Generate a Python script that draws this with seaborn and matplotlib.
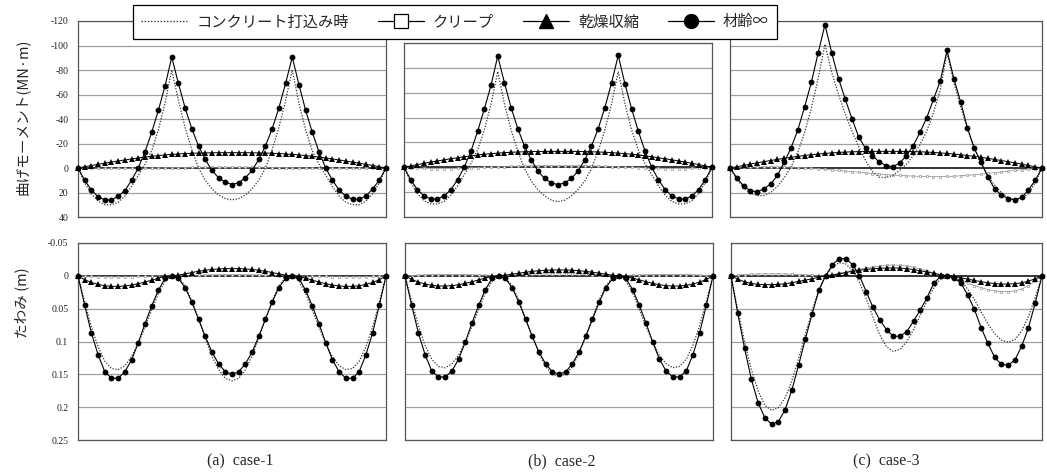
import matplotlib
matplotlib.use('Agg')
import pandas as pd
import matplotlib.pyplot as plt
import seaborn as sns
from matplotlib.lines import Line2D

# node positions along the girder (0..46), supports at 0, 14, 32, 46
nodes = list(range(47))

series_names = ['コンクリート打込み時', 'クリープ', '乾燥収縮', '材齢∞']
case_labels = ['(a)  case-1', '(b)  case-2', '(c)  case-3']

m_ticks = [-120, -100, -80, -60, -40, -20, 0, 20, 40]
m_tick_labels = ['-120', '-100', '-80', '-60', '-40', '-20', '0', '20', '40']
w_ticks = [-0.05, 0, 0.05, 0.1, 0.15, 0.2, 0.25]
w_tick_labels = ['-0.05', '0', '0.05', '0.1', '0.15', '0.2', '0.25']

# ---- bending moment (MN·m) ----
m1_pour = [0, 12, 21, 27, 30, 30, 28, 23, 15, 6, -3, -14, -31, -53, -80,
           -55, -33, -15, 0, 10, 17, 22, 25, 26, 25, 22, 17, 10, 0, -15, -33, -55,
           -80, -53, -31, -14, -3, 6, 15, 23, 28, 30, 30, 27, 21, 12, 0]
m1_creep = [0, 0.1, 0.2, 0.3, 0.3, 0.4, 0.4, 0.4, 0.3, 0.3, 0.2, 0.1, 0, -0.1, -0.2,
            -0.3, -0.4, -0.5, -0.5, -0.6, -0.6, -0.6, -0.6, -0.6, -0.6, -0.6, -0.6, -0.5, -0.5, -0.4, -0.3, -0.2,
            -0.1, 0, 0.1, 0.2, 0.3, 0.3, 0.4, 0.4, 0.4, 0.3, 0.3, 0.2, 0.1, 0.05, 0]
m1_shrink = [0, -1.0, -2.0, -3.0, -3.9, -4.8, -5.7, -6.6, -7.4, -8.2, -8.9, -9.6, -10.2, -10.7, -11.1,
             -11.5, -11.8, -12.0, -12.2, -12.3, -12.4, -12.5, -12.5, -12.5, -12.5, -12.5, -12.4, -12.3, -12.2, -12.0, -11.8, -11.5,
             -11.1, -10.7, -10.2, -9.6, -8.9, -8.2, -7.4, -6.6, -5.7, -4.8, -3.9, -3.0, -2.0, -1.0, 0]
m1_final = [0, 10, 18, 23.5, 26, 26, 23, 18.5, 10, 0, -13, -29, -47, -67, -90.5,
            -69, -49, -32, -18, -7, 2, 8, 11.5, 13.5, 12, 8, 2, -7, -18, -32, -49, -69,
            -90.5, -68, -47, -29, -13, 0, 10, 18, 23, 25.5, 25.5, 23, 17, 10, 0]

m2_pour = [0, 12, 21, 27, 29.5, 29.5, 27.5, 22.5, 15, 6, -3, -14, -30, -51, -77,
           -51, -30, -13, 1, 11, 18, 23, 26.5, 27.7, 26.5, 23, 18, 11, 1, -13, -30, -51,
           -77, -51, -30, -14, -3, 6, 15, 22.5, 27.5, 29.5, 29.5, 27, 21, 12, 0]
m2_creep = [0, 0.4, 0.7, 0.9, 1.0, 1.1, 1.1, 1.0, 0.9, 0.7, 0.5, 0.3, 0.1, -0.1, -0.3,
            -0.5, -0.7, -0.9, -1.0, -1.1, -1.2, -1.2, -1.2, -1.2, -1.2, -1.2, -1.2, -1.1, -1.0, -0.9, -0.7, -0.5,
            -0.3, -0.1, 0.1, 0.3, 0.5, 0.7, 0.9, 1.0, 1.1, 1.1, 1.0, 0.9, 0.7, 0.4, 0]
m2_shrink = [0, -1.1, -2.2, -3.2, -4.2, -5.1, -6.0, -6.9, -7.7, -8.5, -9.2, -9.9, -10.5, -11.0, -11.4,
             -11.8, -12.1, -12.3, -12.5, -12.6, -12.7, -12.8, -12.8, -12.8, -12.8, -12.8, -12.7, -12.6, -12.5, -12.3, -12.1, -11.8,
             -11.4, -11.0, -10.5, -9.9, -9.2, -8.5, -7.7, -6.9, -6.0, -5.1, -4.2, -3.2, -2.2, -1.1, 0]
m2_final = [0, 10, 18, 23, 25.5, 25.5, 23, 18, 10, 0, -13, -29, -47, -66, -89.5,
            -68, -48, -31, -17, -6, 3, 9, 12.5, 14, 12.5, 9, 3, -6, -17, -31, -48, -68,
            -90, -67, -47, -29, -13, 0, 10, 18, 23, 25.5, 25.5, 23, 18, 10, 0]

m3_pour = [0, 9, 16, 20.5, 22.5, 22.5, 20, 15, 8, -1, -13, -29, -49, -73, -101,
           -78, -60, -44, -30, -17, -6, 3, 7.5, 8, 6, 2, -3, -10, -19, -30, -45, -64,
           -94, -70, -50, -32, -17, -4, 6, 14, 20, 24, 26, 25, 21, 12, 0]
m3_creep = [0, -0.3, -0.5, -0.7, -0.8, -0.9, -0.9, -0.9, -0.8, -0.6, -0.4, -0.1, 0.2, 0.6, 1.0,
            1.5, 2.0, 2.5, 3.0, 3.5, 4.0, 4.5, 5.0, 5.4, 5.8, 6.1, 6.4, 6.6, 6.8, 6.9, 7.0, 7.0,
            6.9, 6.7, 6.4, 6.0, 5.5, 5.0, 4.4, 3.8, 3.2, 2.6, 2.0, 1.5, 1.0, 0.5, 0]
m3_shrink = [0, -1.0, -2.1, -3.2, -4.2, -5.2, -6.1, -7.0, -7.9, -8.7, -9.5, -10.2, -10.8, -11.4, -11.9,
             -12.3, -12.7, -13.0, -13.2, -13.4, -13.5, -13.6, -13.6, -13.6, -13.6, -13.6, -13.5, -13.4, -13.2, -13.0, -12.7, -12.3,
             -11.9, -11.4, -10.8, -10.2, -9.5, -8.7, -7.9, -7.0, -6.1, -5.2, -4.2, -3.2, -2.1, -1.0, 0]
m3_final = [0, 8, 14.5, 18.6, 19.4, 17, 13, 6, -4.7, -16.4, -31, -50, -70, -94, -117,
            -94, -73, -56, -40, -25, -16, -10, -5, -2, -1, -4, -10, -18, -29, -41, -56, -71,
            -96, -73, -54, -33, -16, -5, 7, 17, 22, 25, 26, 24, 18, 10, 0]

# ---- deflection (m) ----
w1_pour = [0, 0.04, 0.078, 0.108, 0.130, 0.141, 0.143, 0.137, 0.123, 0.103, 0.078, 0.052, 0.027, 0.008, 0,
           0.003, 0.015, 0.038, 0.066, 0.095, 0.122, 0.143, 0.156, 0.160, 0.156, 0.143, 0.122, 0.095, 0.066, 0.038, 0.015, 0.003,
           0, 0.008, 0.027, 0.052, 0.078, 0.103, 0.123, 0.137, 0.143, 0.141, 0.130, 0.108, 0.078, 0.04, 0]
w1_creep = [0, 0.0005, 0.001, 0.0012, 0.0014, 0.0015, 0.0015, 0.0014, 0.0012, 0.001, 0.0008, 0.0005, 0.0003, 0.0001, 0,
            -0.0002, -0.0005, -0.0008, -0.001, -0.0012, -0.0014, -0.0015, -0.0016, -0.0016, -0.0016, -0.0015, -0.0014, -0.0012, -0.001, -0.0008, -0.0005, -0.0002,
            0, 0.0001, 0.0003, 0.0005, 0.0008, 0.001, 0.0012, 0.0014, 0.0015, 0.0015, 0.0014, 0.0012, 0.001, 0.0005, 0]
w1_shrink = [0, 0.006, 0.010, 0.013, 0.015, 0.016, 0.016, 0.0155, 0.014, 0.012, 0.0095, 0.0065, 0.0035, 0.001, 0,
             -0.001, -0.003, -0.005, -0.007, -0.0085, -0.0097, -0.0105, -0.011, -0.011, -0.011, -0.0105, -0.0097, -0.0085, -0.007, -0.005, -0.003, -0.001,
             0, 0.001, 0.0035, 0.0065, 0.0095, 0.012, 0.014, 0.0155, 0.016, 0.016, 0.015, 0.013, 0.010, 0.006, 0]
w1_final = [0, 0.045, 0.087, 0.12, 0.146, 0.156, 0.156, 0.146, 0.128, 0.102, 0.073, 0.046, 0.022, 0.004, 0,
            0.004, 0.018, 0.04, 0.066, 0.092, 0.116, 0.134, 0.146, 0.150, 0.146, 0.134, 0.116, 0.092, 0.066, 0.04, 0.018, 0.004,
            0, 0.004, 0.022, 0.046, 0.073, 0.102, 0.128, 0.146, 0.156, 0.156, 0.146, 0.12, 0.087, 0.045, 0]

w2_pour = [0, 0.039, 0.076, 0.106, 0.127, 0.138, 0.140, 0.134, 0.121, 0.101, 0.077, 0.051, 0.026, 0.008, 0,
           0.003, 0.015, 0.037, 0.064, 0.092, 0.118, 0.138, 0.150, 0.153, 0.150, 0.138, 0.118, 0.092, 0.064, 0.037, 0.015, 0.003,
           0, 0.008, 0.026, 0.051, 0.077, 0.101, 0.121, 0.134, 0.140, 0.138, 0.127, 0.106, 0.076, 0.039, 0]
w2_creep = [0, -0.0005, -0.001, -0.0015, -0.0018, -0.002, -0.002, -0.002, -0.002, -0.0018, -0.0015, -0.0012, -0.0008, -0.0004, 0,
            -0.0005, -0.001, -0.0015, -0.002, -0.0025, -0.0028, -0.003, -0.003, -0.003, -0.003, -0.003, -0.0028, -0.0025, -0.002, -0.0015, -0.001, -0.0005,
            0, -0.0004, -0.0008, -0.0012, -0.0015, -0.0018, -0.002, -0.002, -0.002, -0.002, -0.0018, -0.0015, -0.001, -0.0005, 0]
w2_shrink = [0, 0.0055, 0.0095, 0.0125, 0.0145, 0.0155, 0.0155, 0.015, 0.0135, 0.0115, 0.009, 0.0062, 0.0033, 0.001, 0,
             -0.001, -0.0025, -0.004, -0.0055, -0.0068, -0.0078, -0.0085, -0.009, -0.009, -0.009, -0.0085, -0.0078, -0.0068, -0.0055, -0.004, -0.0025, -0.001,
             0, 0.001, 0.0033, 0.0062, 0.009, 0.0115, 0.0135, 0.015, 0.0155, 0.0155, 0.0145, 0.0125, 0.0095, 0.0055, 0]
w2_final = [0, 0.045, 0.087, 0.12, 0.145, 0.154, 0.154, 0.145, 0.127, 0.101, 0.072, 0.045, 0.021, 0.004, 0,
            0.004, 0.018, 0.04, 0.066, 0.092, 0.116, 0.134, 0.146, 0.150, 0.146, 0.134, 0.116, 0.092, 0.066, 0.04, 0.018, 0.004,
            0, 0.004, 0.021, 0.045, 0.072, 0.101, 0.127, 0.145, 0.154, 0.154, 0.145, 0.12, 0.087, 0.045, 0]

w3_pour = [0, 0.052, 0.100, 0.142, 0.175, 0.197, 0.205, 0.201, 0.186, 0.160, 0.126, 0.089, 0.053, 0.02, 0,
           -0.014, -0.02, -0.018, -0.008, 0.01, 0.035, 0.063, 0.09, 0.108, 0.115, 0.112, 0.1, 0.082, 0.06, 0.038, 0.018, 0.004,
           0, 0.002, 0.008, 0.02, 0.036, 0.055, 0.073, 0.088, 0.098, 0.101, 0.097, 0.084, 0.062, 0.033, 0]
w3_creep = [0, -0.001, -0.002, -0.0025, -0.003, -0.003, -0.003, -0.003, -0.003, -0.0025, -0.002, -0.0015, -0.001, -0.0005, 0,
            -0.002, -0.004, -0.006, -0.008, -0.010, -0.012, -0.0135, -0.015, -0.016, -0.0165, -0.016, -0.015, -0.013, -0.0105, -0.0075, -0.0045, -0.0015,
            0, 0.003, 0.007, 0.011, 0.015, 0.018, 0.021, 0.023, 0.024, 0.024, 0.023, 0.02, 0.015, 0.008, 0]
w3_shrink = [0, 0.005, 0.009, 0.0115, 0.013, 0.0135, 0.0135, 0.013, 0.012, 0.0105, 0.0085, 0.0065, 0.0045, 0.002, 0,
             -0.001, -0.003, -0.005, -0.007, -0.0085, -0.0098, -0.0108, -0.0115, -0.012, -0.012, -0.0118, -0.011, -0.0095, -0.0078, -0.0058, -0.0037, -0.0017,
             0, 0.001, 0.003, 0.005, 0.007, 0.009, 0.0105, 0.0118, 0.0125, 0.0125, 0.012, 0.0105, 0.008, 0.0045, 0]
w3_final = [0, 0.057, 0.110, 0.157, 0.193, 0.216, 0.226, 0.222, 0.204, 0.174, 0.136, 0.096, 0.058, 0.022, 0,
            -0.017, -0.026, -0.026, -0.017, 0, 0.024, 0.048, 0.067, 0.082, 0.092, 0.092, 0.085, 0.069, 0.052, 0.033, 0.011, 0.001,
            0, 0.0035, 0.011, 0.029, 0.051, 0.079, 0.103, 0.124, 0.135, 0.136, 0.128, 0.107, 0.079, 0.041, 0]

moment = [[m1_pour, m1_creep, m1_shrink, m1_final],
          [m2_pour, m2_creep, m2_shrink, m2_final],
          [m3_pour, m3_creep, m3_shrink, m3_final]]
deflection = [[w1_pour, w1_creep, w1_shrink, w1_final],
              [w2_pour, w2_creep, w2_shrink, w2_final],
              [w3_pour, w3_creep, w3_shrink, w3_final]]

rows = []
for qty, block in [('M', moment), ('w', deflection)]:
    for c, case in enumerate(block):
        for s, vals in enumerate(case):
            assert len(vals) == len(nodes), (qty, c, s, len(vals))
            for n, v in zip(nodes, vals):
                rows.append((qty, c, series_names[s], n, v))
df = pd.DataFrame(rows, columns=['qty', 'case', 'series', 'node', 'value'])

sns.set_style('white')
plt.rcParams['font.family'] = ['Noto Sans CJK JP', 'DejaVu Sans']

W, H = 1047, 474
fig = plt.figure(figsize=(W / 100, H / 100), dpi=100)

def fx(px):
    return px / W

def fy(px):
    return 1 - px / H

# panel boxes in pixels: (left, right, top, bottom)
top_boxes = [(78, 386, 21, 217), (404, 712, 43, 217), (730, 1042, 21, 217)]
bot_boxes = [(78, 386, 243, 440), (405, 713, 243, 440), (731, 1042, 243, 440)]

styles = {
    'コンクリート打込み時': dict(color='#333333', linestyle=(0, (1, 1.3)), linewidth=0.9, marker=None, zorder=3),
    'クリープ': dict(color='#8c8c8c', linestyle='-', linewidth=0.5, marker='s', markersize=1.9,
                     markerfacecolor='white', markeredgecolor='#8c8c8c', markeredgewidth=0.45, zorder=2),
    '乾燥収縮': dict(color='black', linestyle='-', linewidth=0.7, marker='^', markersize=4.4,
                     markeredgewidth=0, zorder=4),
    '材齢∞': dict(color='black', linestyle='-', linewidth=0.8, marker='o', markersize=4.2,
                  markeredgewidth=0, zorder=5),
}

def setup(ax, ylim, ticks, labels, show):
    ax.set_xlim(0, 46)
    ax.set_ylim(ylim)
    ax.set_yticks(ticks)
    for t in ticks:
        if t == 0:
            ax.axhline(t, color='black', lw=1.1, zorder=1)
        else:
            ax.axhline(t, color='#a0a0a0', lw=0.9, zorder=0)
    ax.set_xticks([])
    ax.tick_params(axis='y', length=0, pad=7, labelsize=7, labelcolor='#222222')
    if show:
        ax.set_yticklabels(labels, family='Liberation Serif')
    else:
        ax.set_yticklabels([])
    ax.set_xlabel('')
    ax.set_ylabel('')
    for sp in ax.spines.values():
        sp.set_color('#555555')
        sp.set_linewidth(0.9)

for c in range(3):
    for qty, boxes, ylim, ticks, labels in [('M', top_boxes, None, m_ticks, m_tick_labels),
                                            ('w', bot_boxes, (0.25, -0.05), w_ticks, w_tick_labels)]:
        l, r, t, b = boxes[c]
        ax = fig.add_axes([fx(l), fy(b), fx(r - l), fy(t) - fy(b)])
        for name in series_names:
            sub = df[(df.qty == qty) & (df.case == c) & (df.series == name)]
            sns.lineplot(data=sub, x='node', y='value', ax=ax, legend=False,
                         errorbar=None, clip_on=False, **styles[name])
        if qty == 'M':
            ylim = (40, -100) if c == 1 else (40, -120)
            tk = [v for v in ticks if v >= ylim[1]]
            setup(ax, ylim, tk, labels, c == 0)
        else:
            setup(ax, ylim, ticks, labels, c == 0)

# legend
handles = [
    Line2D([], [], color='#333333', linestyle=(0, (1, 1.3)), linewidth=1.0),
    Line2D([], [], color='black', linewidth=0.9, marker='s', markersize=10,
           markerfacecolor='white', markeredgecolor='black', markeredgewidth=0.9),
    Line2D([], [], color='black', linewidth=0.9, marker='^', markersize=10),
    Line2D([], [], color='black', linewidth=0.9, marker='o', markersize=10),
]
leg = fig.legend(handles, series_names, loc='upper left', bbox_to_anchor=(fx(133), fy(5)),
                 ncol=4, frameon=True, fancybox=False, edgecolor='black', framealpha=1,
                 fontsize=11, handlelength=3.0, handletextpad=0.6, columnspacing=1.9,
                 borderpad=0.55, borderaxespad=0)
leg.get_frame().set_linewidth(0.9)
leg.set_zorder(10)

fig.text(fx(22), fy(117), '曲げモーメント(MN·m)', rotation=90, ha='center', va='center', fontsize=10.5)
fig.text(fx(22), fy(303), 'たわみ (m)', rotation=90, ha='center', va='center', fontsize=10.5)

for x, lab in zip([240, 562, 886], case_labels):
    fig.text(fx(x), fy(461), lab, ha='center', va='center', fontsize=11.5, family='Liberation Serif')

fig.savefig('out.png', dpi=100)
